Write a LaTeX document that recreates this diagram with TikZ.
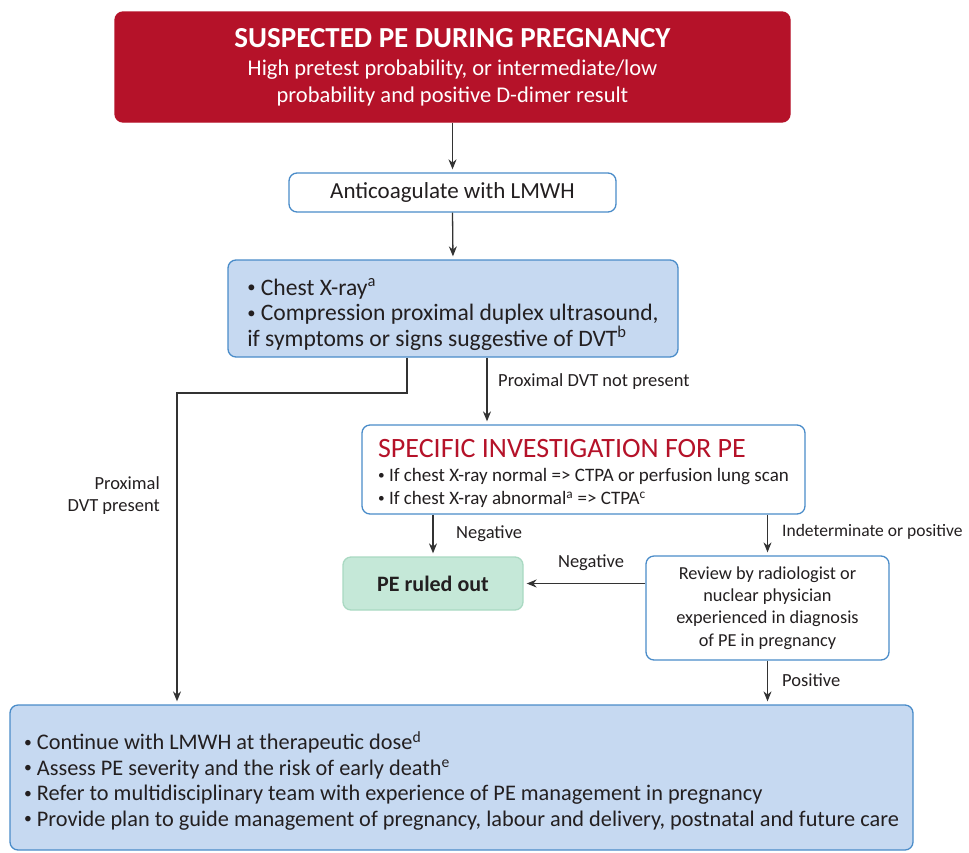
\documentclass[tikz,border=0pt]{standalone}
\usepackage{fontspec}
\usepackage{graphicx}
\setmainfont{Carlito}
\usetikzlibrary{arrows.meta,calc}
\definecolor{pered}{HTML}{B51229}
\definecolor{boxblue}{HTML}{4A8CC9}
\definecolor{fillblue}{HTML}{C6D9F1}
\definecolor{fillgreen}{HTML}{C5E8D8}
\definecolor{greenline}{HTML}{A9D9C2}
\definecolor{ink}{HTML}{231F20}
\definecolor{lineink}{HTML}{333333}
\newcommand{\pbul}{\raisebox{0.12em}{\scalebox{0.7}{•}}\ }
\tikzset{
  base/.style={rectangle, rounded corners=8pt, line width=1.3pt, text=ink, inner sep=0pt},
  redbox/.style={base, fill=pered, draw=pered, text=white, align=center},
  whitebox/.style={base, fill=white, draw=boxblue},
  bluebox/.style={base, fill=fillblue, draw=boxblue},
  greenbox/.style={base, fill=fillgreen, draw=greenline},
  arr/.style={draw=lineink, line width=1.3pt, -{Stealth[length=10pt,width=8pt]}, shorten >=3pt},
  lab/.style={text=ink, font=\fontsize{18.5}{22}\selectfont, inner sep=0pt}
}
\begin{document}
\begin{tikzpicture}[x=1pt,y=-1pt]
\useasboundingbox (0,0) rectangle (969,852);
% boxes
\node[redbox, minimum width=675pt, minimum height=110pt, font=\fontsize{22.5}{27}\selectfont] (red) at (452.5,67)
  {{\fontsize{29}{30}\selectfont\bfseries SUSPECTED PE DURING PREGNANCY}\\[1pt]
   High pretest probability, or intermediate/low\\ probability and positive D-dimer result};
\node[whitebox, minimum width=327pt, minimum height=39pt, font=\fontsize{23}{25}\selectfont] (anti) at (452.5,192.5) {Anticoagulate with LMWH};
\node[bluebox, minimum width=450pt, minimum height=97pt, align=left, font=\fontsize{23.6}{25.5}\selectfont] (xray) at (453,308.5)
  {\rule{0pt}{29pt}\pbul Chest X-ray\textsuperscript{a}\\
   \pbul Compression proximal duplex ultrasound,\\
   if symptoms or signs suggestive of DVT\textsuperscript{b}};
\node[whitebox, minimum width=443pt, minimum height=89pt, align=left, font=\fontsize{19}{23}\selectfont] (spec) at (583.5,469.5)
  {\rule{0pt}{26pt}{\fontsize{28}{30}\selectfont\color{pered}SPECIFIC INVESTIGATION FOR PE}\\[1pt]
   \pbul If chest X-ray normal => CTPA or perfusion lung scan\\
   \pbul If chest X-ray abnormal\textsuperscript{a} => CTPA\textsuperscript{c}};
\node[greenbox, minimum width=180pt, minimum height=53pt, font=\fontsize{22}{25}\selectfont\bfseries] (ruled) at (433,583.5) {PE ruled out};
\node[whitebox, minimum width=243pt, minimum height=104pt, align=center, font=\fontsize{18.3}{22.3}\selectfont] (review) at (767.5,608)
  {Review by radiologist or\\ nuclear physician\\ experienced in diagnosis\\ of PE in pregnancy};
\node[bluebox, minimum width=903pt, minimum height=145pt, align=left, font=\fontsize{22.3}{25.4}\selectfont] (bottom) at (461.5,777.5)
  {\rule{0pt}{25pt}\pbul Continue with LMWH at therapeutic dose\textsuperscript{d}\\
   \pbul Assess PE severity and the risk of early death\textsuperscript{e}\\
   \pbul Refer to multidisciplinary team with experience of PE management in pregnancy\\
   \pbul Provide plan to guide management of pregnancy, labour and delivery, postnatal and future care};
% coordinates
\coordinate (c1) at (407,393);
\coordinate (c2) at (177,393);
\coordinate (c3) at (487,0);
% connectors
\draw[arr] (red.south) -- (anti.north);
\draw[arr] (anti.south) -- (xray.north);
\draw[arr] (xray.south -| c1) -- (c1) -- (c2) -- (c2 |- bottom.north);
\draw[arr] (xray.south -| c3) -- (spec.north -| c3);
\draw[arr] (spec.south -| ruled.north) -- (ruled.north);
\draw[arr] (spec.south -| review.north) -- (review.north);
\draw[arr] (review.west |- ruled.east) -- (ruled.east);
\draw[arr] (review.south) -- (review.south |- bottom.north);
% labels
\node[lab, anchor=west] (l1) at (498,382) {Proximal DVT not present};
\node[lab, anchor=east, align=right] (l2) at (160,496) {Proximal\\ DVT present};
\node[lab, anchor=west] (l3) at (456,534) {Negative};
\node[lab, anchor=west, font=\fontsize{17.5}{21}\selectfont] (l4) at (782,532) {Indeterminate or positive};
\node[lab, anchor=center] (l5) at (591,563) {Negative};
\node[lab, anchor=west] (l6) at (782,680) {Positive};
\end{tikzpicture}
\end{document}
